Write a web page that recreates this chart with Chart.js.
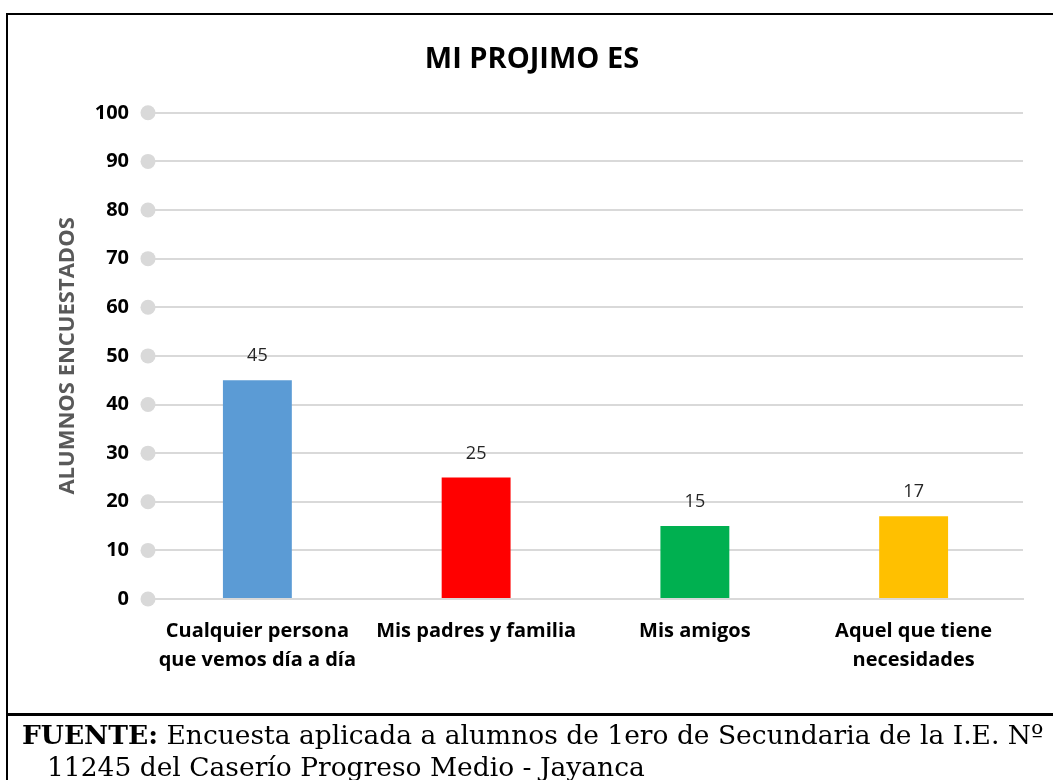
<!DOCTYPE html>
<html>
<head>
<meta charset="utf-8">
<script src="https://cdn.jsdelivr.net/npm/chart.js@4"></script>
<style>
  html, body { margin: 0; padding: 0; background: #fff; }
  body { width: 1053px; height: 780px; position: relative; overflow: hidden; }
  #chart { position: absolute; left: 0; top: 0; }
  .box { position: absolute; left: 6px; top: 13px; width: 1060px; height: 698px;
         border-left: 2px solid #000; border-top: 2px solid #000; border-bottom: 3px solid #000; }
  .edge { position: absolute; left: 6px; top: 713px; width: 2px; height: 80px; background: #000; }
  .fuente { position: absolute; left: 22px; top: 719px; width: 1030px;
            font-family: "DejaVu Serif", serif; font-size: 26.5px; line-height: 32px; color: #000;
            white-space: nowrap; }
  .fuente b { font-weight: bold; }
  .fuente .l2 { padding-left: 25px; }
</style>
</head>
<body>
<div class="box"></div>
<div class="edge"></div>
<canvas id="chart" width="1053" height="780"></canvas>
<div class="fuente">
  <div><b>FUENTE:</b> Encuesta aplicada a alumnos de 1ero de Secundaria de la I.E. Nº</div>
  <div class="l2">11245 del Caserío Progreso Medio - Jayanca</div>
</div>
<script>
// datos del gráfico
const categorias = [
    ['Cualquier persona', 'que vemos día a día'],
    'Mis padres y familia',
    'Mis amigos',
    ['Aquel que tiene', 'necesidades']
]
const alumnos = [45, 25, 15, 17]
const colores = ['#5B9BD5', '#FF0000', '#00B050', '#FFC000']
const ticksY = [0, 10, 20, 30, 40, 50, 60, 70, 80, 90, 100]

const fontSans = '"Open Sans", "Noto Sans", sans-serif'

// puntos grises al inicio de cada línea de cuadrícula
const puntosGrid = {
    id: 'puntosGrid',
    afterDraw(chart) {
        const ctx = chart.ctx
        const y = chart.scales.y
        ctx.save()
        ctx.fillStyle = '#D9D9D9'
        y.ticks.forEach(t => {
            ctx.beginPath()
            ctx.arc(chart.chartArea.left, y.getPixelForValue(t.value), 7.5, 0, Math.PI * 2)
            ctx.fill()
        })
        ctx.restore()
    }
}

// etiquetas de valor encima de cada barra
const etiquetas = {
    id: 'etiquetas',
    afterDatasetsDraw(chart) {
        const ctx = chart.ctx
        const meta = chart.getDatasetMeta(0)
        ctx.save()
        ctx.font = '18px ' + fontSans
        ctx.fillStyle = '#262626'
        ctx.textAlign = 'center'
        ctx.textBaseline = 'middle'
        meta.data.forEach((bar, i) => {
            ctx.fillText(alumnos[i], bar.x, bar.y - 24)
        })
        ctx.restore()
    }
}

const ctx = document.getElementById('chart').getContext('2d')
new Chart(ctx, {
    type: 'bar',
    data: {
        labels: categorias,
        datasets: [{
            data: alumnos,
            backgroundColor: colores,
            borderWidth: 0,
            categoryPercentage: 1,
            barPercentage: 0.315
        }]
    },
    options: {
        responsive: false,
        animation: false,
        layout: { padding: { left: 41, right: 30, top: 0, bottom: 0 } },
        plugins: {
            legend: { display: false },
            tooltip: { enabled: false },
            title: {
                display: true,
                text: 'MI PROJIMO ES',
                color: '#000',
                font: { family: fontSans, size: 29, weight: 'bold' },
                padding: { top: 42, bottom: 36 }
            }
        },
        scales: {
            y: {
                min: 0,
                max: 100,
                afterBuildTicks(scale) {
                    scale.ticks = ticksY.map(v => ({ value: v }))
                },
                afterFit(scale) { scale.width = 107 },
                border: { display: false },
                grid: { color: '#D9D9D9', lineWidth: 2, drawTicks: false },
                ticks: {
                    padding: 19,
                    color: '#000',
                    font: { family: fontSans, size: 20, weight: 'bold' }
                },
                title: {
                    display: true,
                    text: 'ALUMNOS ENCUESTADOS',
                    color: '#595959',
                    font: { family: fontSans, size: 22, weight: 'bold' },
                    padding: { top: 14, bottom: 0 }
                }
            },
            x: {
                afterFit(scale) { scale.height = 181 },
                border: { display: true, color: '#D9D9D9', width: 2 },
                grid: { display: false, drawTicks: false },
                ticks: {
                    padding: 18,
                    color: '#000',
                    font: { family: fontSans, size: 20, weight: 'bold', lineHeight: 1.45 },
                    maxRotation: 0
                }
            }
        }
    },
    plugins: [puntosGrid, etiquetas]
})
</script>
</body>
</html>
